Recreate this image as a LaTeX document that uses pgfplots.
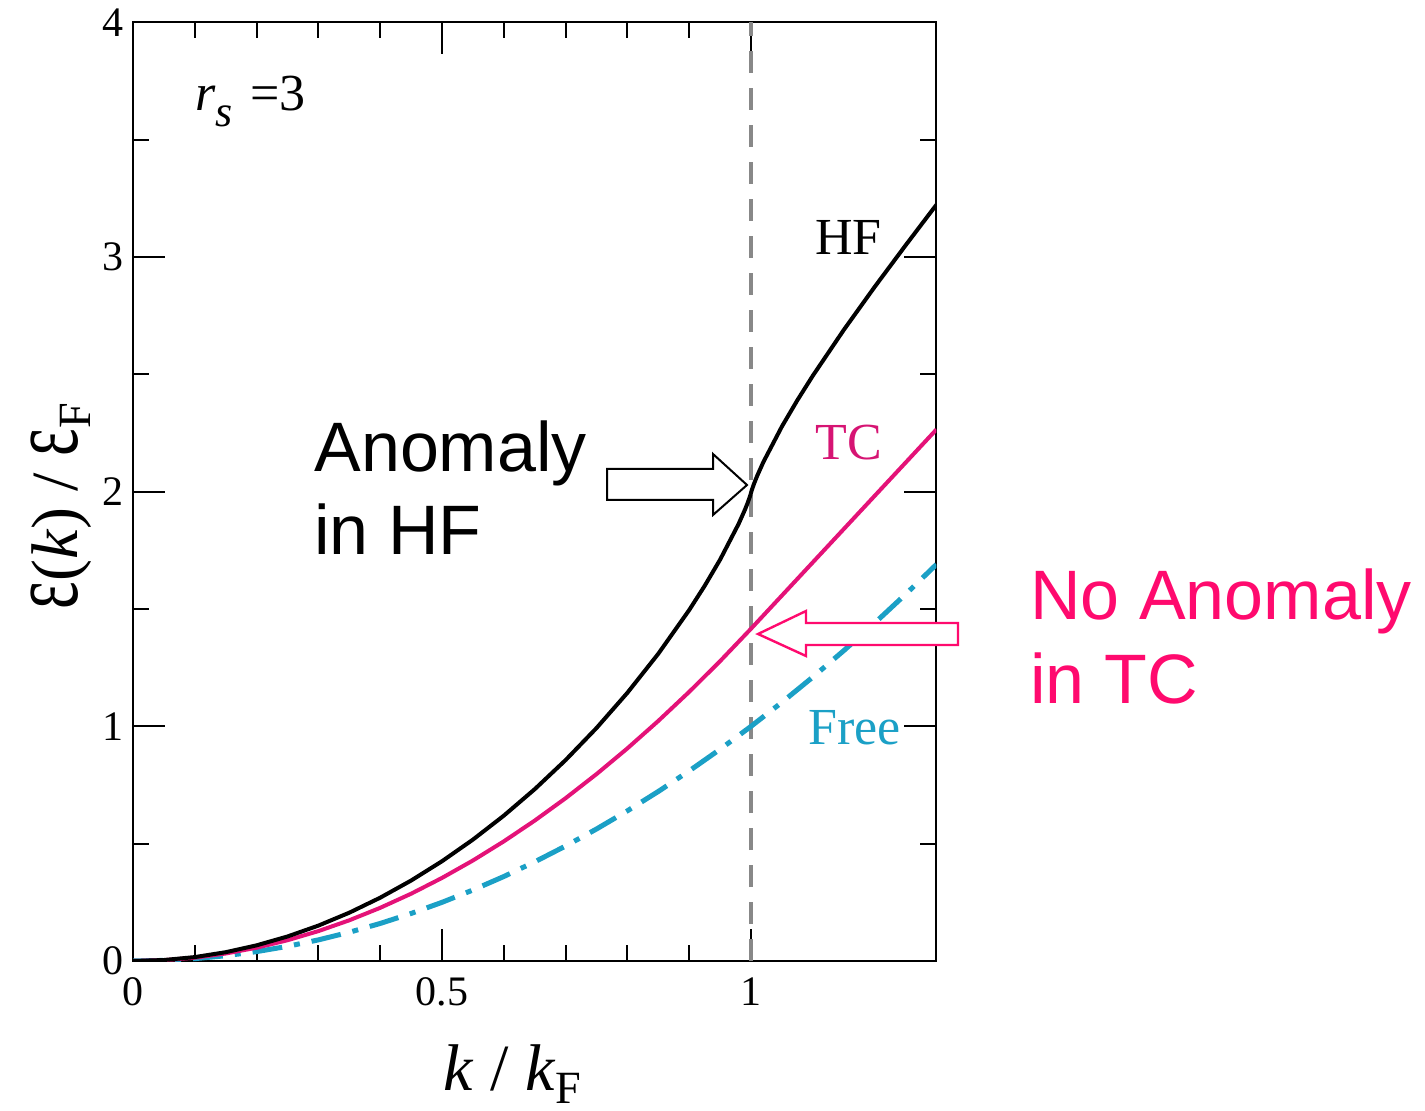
\documentclass[border=0pt]{standalone}
\usepackage{pgfplots}
\pgfplotsset{compat=1.18}
\usepackage{fontspec}
\setmainfont{Liberation Serif}
\newfontfamily\arial{Liberation Sans}
\definecolor{tcline}{RGB}{228,18,120}
\definecolor{tctext}{RGB}{214,20,115}
\definecolor{napink}{RGB}{255,10,110}
\definecolor{freec}{RGB}{27,160,198}
\definecolor{dgray}{RGB}{136,136,136}

\pgfplotstableread{
x y
0 0
0.05 0.00416
0.1 0.01665
0.15 0.03749
0.2 0.06675
0.25 0.10449
0.3 0.15082
0.35 0.20586
0.4 0.26979
0.45 0.3428
0.5 0.42516
0.55 0.5172
0.6 0.61934
0.65 0.73212
0.7 0.85627
0.75 0.99278
0.8 1.14310
0.85 1.30945
0.9 1.49575
0.925 1.59864
0.95 1.71044
0.98 1.86303
0.99 1.92217
0.995 1.95516
0.999 1.98543
1.0 1.995
1.001 2.00456
1.005 2.03477
1.01 2.06761
1.02 2.12634
1.05 2.27785
1.075 2.38976
1.1 2.49416
1.15 2.68897
1.2 2.87242
1.25 3.04940
1.3 3.2229
}\hfdata

\pgfplotstableread{
x y
0 0
0.05 0.00354
0.1 0.0142
0.15 0.0319
0.2 0.0566
0.25 0.0885
0.3 0.1274
0.35 0.1735
0.4 0.2266
0.45 0.2867
0.5 0.354
0.55 0.4283
0.6 0.5098
0.65 0.5983
0.7 0.6938
0.75 0.7965
0.8 0.9062
0.85 1.0231
0.9 1.147
0.95 1.2779
1.0 1.416
1.05 1.5575
1.1 1.699
1.15 1.8405
1.2 1.982
1.25 2.1235
1.3 2.265
}\tcdata

\pgfplotstableread{
x y
0 0
0.05 0.0025
0.1 0.01
0.15 0.0225
0.2 0.04
0.25 0.0625
0.3 0.09
0.35 0.1225
0.4 0.16
0.45 0.2025
0.5 0.25
0.55 0.3025
0.6 0.36
0.65 0.4225
0.7 0.49
0.75 0.5625
0.8 0.64
0.85 0.7225
0.9 0.81
0.95 0.9025
1.0 1.0
1.05 1.1025
1.1 1.21
1.15 1.3225
1.2 1.44
1.25 1.5625
1.3 1.69
}\freedata

\begin{document}
\begin{tikzpicture}
\useasboundingbox (0,0) rectangle (712.5pt,555pt);
\begin{axis}[
  at={(66.5pt,74.5pt)}, anchor=south west,
  scale only axis, width=401.7pt, height=469.3pt,
  xmin=0, xmax=1.3, ymin=0, ymax=4,
  xtick={0,0.5,1}, ytick={0,1,2,3,4},
  minor x tick num=4, minor y tick num=1,
  tick pos=both, tick align=inside,
  major tick length=16pt, minor tick length=8pt,
  axis line style={line width=1pt},
  every tick/.style={line width=1pt, black},
  /pgf/number format/assume math mode=true,
  ticklabel style={font=\fontsize{21}{25}\selectfont},
  xticklabel style={yshift=-5pt},
  yticklabel style={xshift=-1pt},
]
\addplot[dgray, line width=2.2pt, dash pattern=on 11pt off 7.5pt] coordinates {(1,0) (1,4)};
\addplot[freec, line width=2.5pt, dash pattern=on 15pt off 6pt on 3pt off 6pt] table[x=x,y=y] {\freedata};
\addplot[tcline, line width=2pt] table[x=x,y=y] {\tcdata};
\addplot[black, line width=2pt] table[x=x,y=y] {\hfdata};
\end{axis}
\begin{scope}[shift={(0,555pt)}, x=0.5pt, y=-0.5pt]
  % arrows
  \draw[black, line width=1pt, fill=white] (607,469) -- (713,469) -- (713,454) -- (747,485) -- (713,515) -- (713,500) -- (607,500) -- cycle;
  \draw[napink, line width=1.2pt, fill=white] (958,623) -- (806,623) -- (806,611) -- (758,634) -- (806,656) -- (806,645) -- (958,645) -- cycle;
  % annotation texts
  \node[anchor=base west, inner sep=0, font=\arial\fontsize{35}{41.5}\selectfont] at (314,472) {Anomaly};
  \node[anchor=base west, inner sep=0, font=\arial\fontsize{35}{41.5}\selectfont] at (314,555) {in HF};
  \node[anchor=base west, inner sep=0, text=napink, font=\arial\fontsize{35}{41.5}\selectfont] at (1030,620) {No Anomaly};
  \node[anchor=base west, inner sep=0, text=napink, font=\arial\fontsize{35}{41.5}\selectfont] at (1030,703) {in TC};
  % curve labels
  \node[anchor=base west, inner sep=0, font=\fontsize{26}{30}\selectfont] at (815,255) {HF};
  \node[anchor=base west, inner sep=0, text=tctext, font=\fontsize{26}{30}\selectfont] at (815,460) {TC};
  \node[anchor=base west, inner sep=0, text=freec, font=\fontsize{26}{30}\selectfont] at (808,745) {Free};
  % r_s = 3
  \node[anchor=base west, inner sep=0, font=\fontsize{26}{30}\selectfont] at (195,111) {\textit{r}\raisebox{-0.3em}{\fontsize{22}{26}\selectfont\textit{s}}\,\,=3};
  % axis labels
  \node[anchor=base west, inner sep=0, font=\fontsize{33}{38}\selectfont] at (443,1090) {\textit{k} / \textit{k}\textsubscript{F}};
  \node[anchor=base west, inner sep=0, rotate=90, font=\fontsize{33}{38}\selectfont] at (77,610) {\scalebox{1}[1.5]{ε}(\textit{k}) / \scalebox{1}[1.5]{ε}\textsubscript{F}};
\end{scope}
\end{tikzpicture}
\end{document}
